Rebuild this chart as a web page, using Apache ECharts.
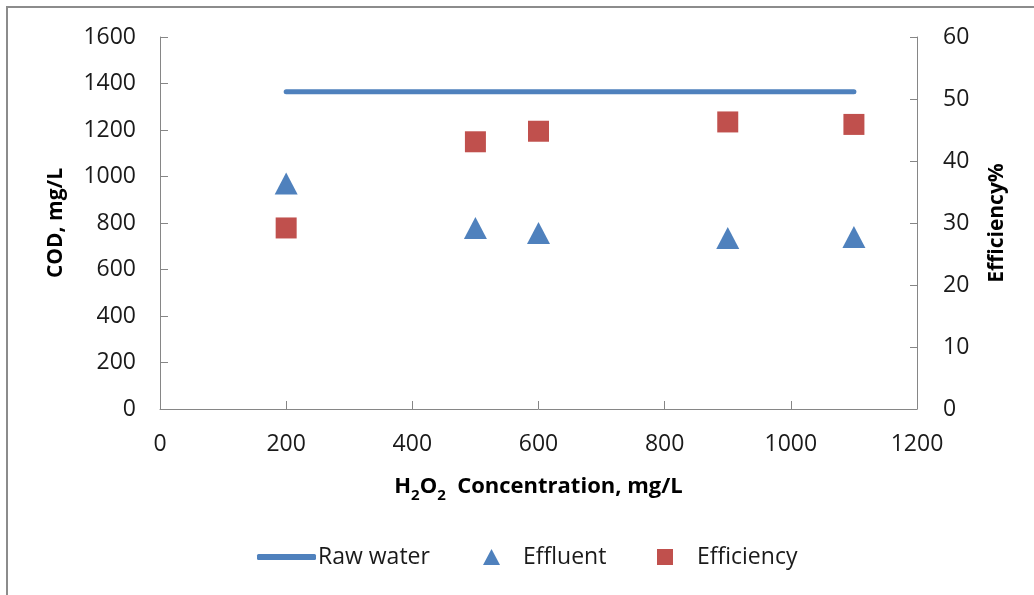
<!DOCTYPE html>
<html>
<head>
<meta charset="utf-8">
<script src="https://cdn.jsdelivr.net/npm/echarts@6/dist/echarts.min.js"></script>
<style>html,body{margin:0;padding:0;background:#fff;}#c{width:1034px;height:595px;}</style>
</head>
<body>
<div id="c"></div>
<script>
const concentrations = [200, 500, 600, 900, 1100];
const rawWaterX = [200, 1100];
const rawWater = [1365, 1365];
const effluent = [970, 778, 757, 735, 740];
const efficiency = [29.2, 43.1, 44.8, 46.3, 45.9];
const seriesNames = ['Raw water', 'Effluent', 'Efficiency'];

const FONT = '"Open Sans", sans-serif';
const AX = '#868686';
const BLUE = '#4f81bd';
const RED = '#c0504d';

const chart = echarts.init(document.getElementById('c'), null, {renderer: 'canvas'});
const plain = v => String(v);
const axisLabel = {color: '#1a1a1a', fontFamily: FONT, fontSize: 23, formatter: plain};
const legendText = {color: '#1a1a1a', fontFamily: FONT, fontSize: 23, lineHeight: 30};

chart.setOption({
  animation: false,
  backgroundColor: '#fff',
  graphic: [{
    type: 'rect', shape: {x: 7, y: 7, width: 1200, height: 800},
    style: {fill: 'none', stroke: '#8c8c8c', lineWidth: 2}, silent: true
  }],
  grid: {left: 160, right: 117, top: 37, bottom: 186},
  xAxis: {
    type: 'value', min: 0, max: 1200, interval: 200,
    axisLine: {show: true, onZero: false, lineStyle: {color: AX, width: 1}},
    axisTick: {show: true, inside: true, length: 8, lineStyle: {color: AX}},
    axisLabel: Object.assign({margin: 24}, axisLabel),
    splitLine: {show: false},
    name: '{b|H}{s|2}{b|O}{s|2}{b|  Concentration, mg/L}',
    nameLocation: 'middle', nameGap: 62,
    nameTextStyle: {
      rich: {
        b: {fontFamily: FONT, fontSize: 22, fontWeight: 'bold', color: '#000', lineHeight: 32},
        s: {fontFamily: FONT, fontSize: 15, fontWeight: 'bold', color: '#000', lineHeight: 16, verticalAlign: 'bottom'}
      }
    }
  },
  yAxis: [{
    type: 'value', min: 0, max: 1600, interval: 200,
    axisLine: {show: true, lineStyle: {color: AX, width: 1}},
    axisTick: {show: true, inside: true, length: 8, lineStyle: {color: AX}},
    axisLabel: Object.assign({margin: 24}, axisLabel),
    splitLine: {show: false},
    name: 'COD, mg/L', nameLocation: 'middle', nameGap: 93, nameRotate: 90,
    nameTextStyle: {fontFamily: FONT, fontSize: 21, fontWeight: 'bold', color: '#000'}
  }, {
    type: 'value', min: 0, max: 60, interval: 10, position: 'right',
    axisLine: {show: true, lineStyle: {color: AX, width: 1}},
    axisTick: {show: true, inside: true, length: 7, lineStyle: {color: AX}},
    axisLabel: Object.assign({margin: 26}, axisLabel),
    splitLine: {show: false},
    name: 'Efficiency%', nameLocation: 'middle', nameGap: 70, nameRotate: 90,
    nameTextStyle: {fontFamily: FONT, fontSize: 21, fontWeight: 'bold', color: '#000'}
  }],
  legend: [{
    data: [{name: seriesNames[0], icon: 'roundRect'}], left: 257, top: 542, padding: 0,
    itemWidth: 59, itemHeight: 6, itemGap: 0, textStyle: Object.assign({padding: [0, 0, 0, -3]}, legendText)
  }, {
    data: [{name: seriesNames[1], icon: 'triangle'}], left: 483, top: 542, padding: 0,
    itemWidth: 17, itemHeight: 16, textStyle: Object.assign({padding: [0, 0, 0, 18]}, legendText)
  }, {
    data: [{name: seriesNames[2], icon: 'rect'}], left: 657, top: 542, padding: 0,
    itemWidth: 16, itemHeight: 16, textStyle: Object.assign({padding: [0, 0, 0, 19]}, legendText)
  }],
  series: [{
    name: seriesNames[0], type: 'line', yAxisIndex: 0,
    data: rawWaterX.map((x, i) => [x, rawWater[i]]),
    symbol: 'none', lineStyle: {color: BLUE, width: 5, cap: 'round'}, itemStyle: {color: BLUE}
  }, {
    name: seriesNames[1], type: 'scatter', yAxisIndex: 0,
    data: concentrations.map((x, i) => [x, effluent[i]]),
    symbol: 'triangle', symbolSize: [23, 22], itemStyle: {color: BLUE, opacity: 1}
  }, {
    name: seriesNames[2], type: 'scatter', yAxisIndex: 1,
    data: concentrations.map((x, i) => [x, efficiency[i]]),
    symbol: 'rect', symbolSize: 21, itemStyle: {color: RED, opacity: 1}
  }]
});
</script>
</body>
</html>
